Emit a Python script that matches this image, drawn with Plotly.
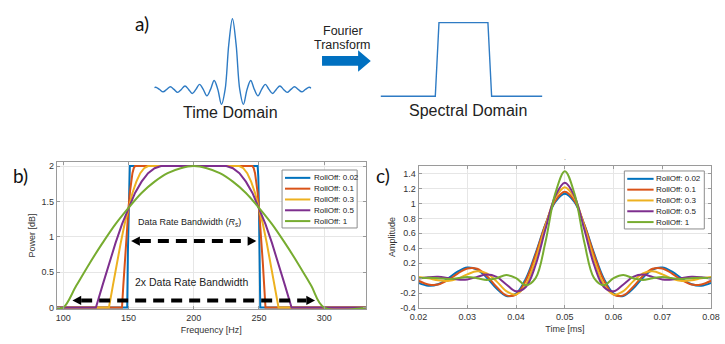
import plotly.graph_objects as go

W, H = 725, 344
def px(x): return x / W
def py(y): return 1 - y / H

# ---------------- data ----------------
rolloff_labels = ["RollOff: 0.02", "RollOff: 0.1", "RollOff: 0.3", "RollOff: 0.5", "RollOff: 1"]
colors = ["#0072BD", "#D95319", "#EDB120", "#7E2F8E", "#77AC30"]

# panel b : spectra (frequency in Hz, power)
freq_002 = [95, 149, 149.5, 150, 150.5, 151, 249, 249.5, 250, 250.5, 251, 332]
pow_002 = [0, 0, 0.77, 1.41, 1.85, 2, 2, 1.85, 1.41, 0.77, 0, 0]
freq_01 = [95, 145, 146, 147, 148, 149, 150, 151, 152, 153, 154, 155,
           245, 246, 247, 248, 249, 250, 251, 252, 253, 254, 255, 332]
pow_01 = [0, 0, 0.31, 0.62, 0.91, 1.18, 1.41, 1.62, 1.78, 1.90, 1.97, 2,
          2, 1.97, 1.90, 1.78, 1.62, 1.41, 1.18, 0.91, 0.62, 0.31, 0, 0]
freq_03 = [95, 135, 138, 141, 144, 147, 150, 153, 156, 159, 162, 165,
           235, 238, 241, 244, 247, 250, 253, 256, 259, 262, 265, 332]
pow_03 = [0, 0, 0.31, 0.62, 0.91, 1.18, 1.41, 1.62, 1.78, 1.90, 1.97, 2,
          2, 1.97, 1.90, 1.78, 1.62, 1.41, 1.18, 0.91, 0.62, 0.31, 0, 0]
freq_05 = [95, 125, 130, 135, 140, 145, 150, 155, 160, 165, 170, 175,
           225, 230, 235, 240, 245, 250, 255, 260, 265, 270, 275, 332]
pow_05 = [0, 0, 0.31, 0.62, 0.91, 1.18, 1.41, 1.62, 1.78, 1.90, 1.97, 2,
          2, 1.97, 1.90, 1.78, 1.62, 1.41, 1.18, 0.91, 0.62, 0.31, 0, 0]
freq_1 = [95, 100, 110, 120, 130, 140, 150, 160, 170, 180, 190, 200,
          210, 220, 230, 240, 250, 260, 270, 280, 290, 300, 332]
pow_1 = [0, 0, 0.31, 0.62, 0.91, 1.18, 1.41, 1.62, 1.78, 1.90, 1.97, 2,
         1.97, 1.90, 1.78, 1.62, 1.41, 1.18, 0.91, 0.62, 0.31, 0, 0]

# panel c : pulses (time in ms, amplitude)
time_ms = [0.020, 0.022, 0.024, 0.026, 0.028, 0.030, 0.032, 0.034, 0.036, 0.038,
           0.040, 0.042, 0.044, 0.046, 0.048, 0.050, 0.052, 0.054, 0.056, 0.058,
           0.060, 0.062, 0.064, 0.066, 0.068, 0.070, 0.072, 0.074, 0.076, 0.078, 0.080]
amp_002 = [-0.063, -0.101, -0.082, -0.006, 0.087, 0.143, 0.116, 0.006, -0.140, -0.238,
           -0.207, -0.006, 0.333, 0.715, 1.016, 1.130, 1.016, 0.715, 0.333, -0.006,
           -0.207, -0.238, -0.140, 0.006, 0.116, 0.143, 0.087, -0.006, -0.082, -0.101, -0.063]
amp_01 = [-0.035, -0.084, -0.086, -0.028, 0.062, 0.130, 0.125, 0.030, -0.117, -0.231,
          -0.219, -0.030, 0.313, 0.713, 1.033, 1.155, 1.033, 0.713, 0.313, -0.030,
          -0.219, -0.231, -0.117, 0.030, 0.125, 0.130, 0.062, -0.028, -0.086, -0.084, -0.035]
amp_03 = [0.016, -0.002, -0.029, -0.037, -0.007, 0.051, 0.091, 0.064, -0.043, -0.173,
          -0.219, -0.084, 0.250, 0.692, 1.068, 1.216, 1.068, 0.692, 0.250, -0.084,
          -0.219, -0.173, -0.043, 0.064, 0.091, 0.051, -0.007, -0.037, -0.029, -0.002, 0.016]
amp_05 = [-0.004, 0.012, 0.018, 0.003, -0.018, -0.017, 0.017, 0.048, 0.017, -0.084,
          -0.176, -0.119, 0.176, 0.650, 1.095, 1.278, 1.095, 0.650, 0.176, -0.119,
          -0.176, -0.084, 0.017, 0.048, 0.017, -0.017, -0.018, 0.003, 0.018, 0.012, -0.004]
amp_1 = [0.000, 0.007, 0.000, -0.010, 0.000, 0.015, 0.000, -0.023, 0.000, 0.041,
         0.000, -0.095, 0.000, 0.477, 1.124, 1.431, 1.124, 0.477, 0.000, -0.095,
         0.000, 0.041, 0.000, -0.023, 0.000, 0.015, 0.000, -0.010, 0.000, 0.007, 0.000]

# panel a : illustrations
td_x = [-10.7, -10.5, -10, -9.5, -9, -8.5, -8, -7.5, -7, -6.5, -6, -5.5, -5, -4.5, -4,
        -3.5, -3, -2.5, -2, -1.5, -1, -0.5, 0, 0.5, 1, 1.5, 2, 2.5, 3, 3.5, 4, 4.5,
        5, 5.5, 6, 6.5, 7, 7.5, 8, 8.5, 9, 9.5, 10, 10.5, 10.8]
td_y = [0.024, 0.030, 0, -0.034, 0, 0.037, 0, -0.042, 0, 0.049, 0, -0.058, 0, 0.071, 0,
        -0.091, 0, 0.127, 0, -0.212, 0, 0.637, 1, 0.637, 0, -0.212, 0, 0.127, 0, -0.091,
        0, 0.071, 0, -0.058, 0, 0.049, 0, -0.042, 0, 0.037, 0, -0.034, 0, 0.030, 0.017]
sd_x = [-3.15, -1.07, -0.93, 0.93, 1.07, 3.0]
sd_y = [0, 0, 1, 1, 0, 0]

freqs = [freq_002, freq_01, freq_03, freq_05, freq_1]
pows = [pow_002, pow_01, pow_03, pow_05, pow_1]
amps = [amp_002, amp_01, amp_03, amp_05, amp_1]

# ---------------- figure ----------------
fig = go.Figure()
for i in range(5):
    fig.add_trace(go.Scatter(
        x=freqs[i], y=pows[i], mode="lines", name=rolloff_labels[i],
        line=dict(color=colors[i], width=2, shape="spline" if i == 4 else "linear"),
        xaxis="x", yaxis="y", showlegend=False, hoverinfo="skip"))
for i in range(5):
    fig.add_trace(go.Scatter(
        x=time_ms, y=amps[i], mode="lines", name=rolloff_labels[i],
        line=dict(color=colors[i], width=2, shape="spline", smoothing=1.0),
        xaxis="x2", yaxis="y2", showlegend=False, hoverinfo="skip"))

illus = "#2E7BC4"
fig.add_trace(go.Scatter(x=td_x, y=td_y, mode="lines", line=dict(color=illus, width=1.4, shape="spline"),
                         xaxis="x3", yaxis="y3", showlegend=False, hoverinfo="skip"))
fig.add_trace(go.Scatter(x=sd_x, y=sd_y, mode="lines", line=dict(color=illus, width=1.4),
                         xaxis="x4", yaxis="y4", showlegend=False, hoverinfo="skip"))

SANS = "Liberation Sans"
axis_font = dict(family=SANS, size=9, color="#333333")
grid = "#e6e6e6"
box = "#9a9a9a"
common = dict(showgrid=True, gridcolor=grid, gridwidth=1, showline=True, linecolor=box,
              linewidth=1, mirror="ticks", ticks="inside", ticklen=3, tickcolor=box,
              zeroline=False, tickfont=axis_font, fixedrange=True, ticklabeloverflow="allow")

fig.update_layout(
    width=W, height=H, margin=dict(l=0, r=0, t=0, b=0),
    paper_bgcolor="white", plot_bgcolor="white",
    font=dict(family=SANS, color="#222222"),
    xaxis=dict(domain=[px(49), px(366)], range=[95, 332], anchor="y",
               tickvals=[100, 150, 200, 250, 300], ticktext=["100", "150", "200", "250", "300"],
               title=dict(text="Frequency [Hz]", font=axis_font, standoff=4), **common),
    yaxis=dict(domain=[py(313.4), py(163.7)], range=[-0.02, 2.06], anchor="x",
               tickvals=[0, 0.5, 1, 1.5, 2], ticktext=["0", "0.5", "1", "1.5", "2"],
               title=dict(text="Power [dB]", font=axis_font, standoff=4), **common),
    xaxis2=dict(domain=[px(420), px(720)], range=[0.02, 0.08], anchor="y2",
                tickvals=[0.02, 0.03, 0.04, 0.05, 0.06, 0.07, 0.08],
                ticktext=["0.02", "0.03", "0.04", "0.05", "0.06", "0.07", "0.08"],
                title=dict(text="Time [ms]", font=axis_font, standoff=4), **common),
    yaxis2=dict(domain=[py(312.5), py(168)], range=[-0.4, 1.5], anchor="x2",
                tickvals=[-0.4, -0.2, 0, 0.2, 0.4, 0.6, 0.8, 1, 1.2, 1.4],
                ticktext=["-0.4", "-0.2", "0", "0.2", "0.4", "0.6", "0.8", "1", "1.2", "1.4"],
                title=dict(text="Amplitude", font=axis_font, standoff=3), **common),
    xaxis3=dict(domain=[px(149), px(310)], range=[-10.7, 10.8], visible=False, fixedrange=True),
    yaxis3=dict(domain=[py(112), py(14)], range=[-0.306, 1.056], visible=False, fixedrange=True),
    xaxis4=dict(domain=[px(381), px(547)], range=[-3.15, 3.0], visible=False, fixedrange=True),
    yaxis4=dict(domain=[py(112), py(14)], range=[-0.2, 1.107], visible=False, fixedrange=True),
)

# ----- decorations -----
shapes = []
ann = []

def text(x, y, s, size, family=SANS, color="#222222",
         xanchor="center", xref="paper", yref="paper"):
    ann.append(dict(x=x, y=y, xref=xref, yref=yref, text=s, showarrow=False,
                    xanchor=xanchor, yanchor="middle",
                    font=dict(family=family, size=size, color=color)))

# panel labels
lab_font = "Lato"
text(px(136), py(23), "a)", 19, family=lab_font, color="#111111")
text(px(12), py(178), "b)", 19, family=lab_font, color="#111111")
text(px(384), py(178), "c)", 19, family=lab_font, color="#111111")
text(px(570), py(159), ".", 7, color="#666666")

# panel a texts and arrow
text(px(227), py(113), "Time Domain", 16)
text(px(471), py(111), "Spectral Domain", 16)
text(px(342), py(31), "Fourier", 12.5)
text(px(342), py(45), "Transform", 12.5)
pts = [(321, 56), (358, 56), (358, 50), (371, 61), (358, 72), (358, 66), (321, 66)]
path = "M " + " L ".join(f"{px(a):.5f},{py(b):.5f}" for a, b in pts) + " Z"
shapes.append(dict(type="path", path=path, xref="paper", yref="paper",
                   fillcolor="#0070C0", line=dict(width=0)))

# panel b bandwidth arrows
def dbl_arrow(x0, x1, y, hl=6.7, hh=0.065):
    shapes.append(dict(type="line", xref="x", yref="y", x0=x0 + hl, x1=x1 - hl, y0=y, y1=y,
                       line=dict(color="black", width=4, dash="11px,7px")))
    for tip, base in ((x0, x0 + hl), (x1, x1 - hl)):
        shapes.append(dict(type="path", xref="x", yref="y",
                           path=f"M {tip},{y} L {base},{y + hh} L {base},{y - hh} Z",
                           fillcolor="black", line=dict(width=0)))

dbl_arrow(152, 248, 0.94)
dbl_arrow(107, 293, 0.10)
text(197, 1.2, "Data Rate Bandwidth (<i>R<sub>s</sub></i>)", 9, xref="x", yref="y")
text(198, 0.36, "2x Data Rate Bandwidth", 10.5, xref="x", yref="y")

# manual legends
def legend(x0, x1, y0, y1, lx0, lx1, tx, rows):
    shapes.append(dict(type="rect", xref="paper", yref="paper",
                       x0=px(x0), x1=px(x1), y0=py(y1), y1=py(y0),
                       fillcolor="white", line=dict(color="#8c8c8c", width=1)))
    for i, ry in enumerate(rows):
        shapes.append(dict(type="line", xref="paper", yref="paper",
                           x0=px(lx0), x1=px(lx1), y0=py(ry), y1=py(ry),
                           line=dict(color=colors[i], width=2)))
        text(px(tx), py(ry), rolloff_labels[i], 8, xanchor="left", color="#222222")

legend(280, 357, 172, 231, 283, 309, 310.5, [180, 191, 202, 213, 224])
legend(631, 713, 173, 232, 634, 661, 661.5, [181, 192, 203, 214, 225])

fig.update_layout(shapes=shapes, annotations=ann)
fig.write_html("out.html")
